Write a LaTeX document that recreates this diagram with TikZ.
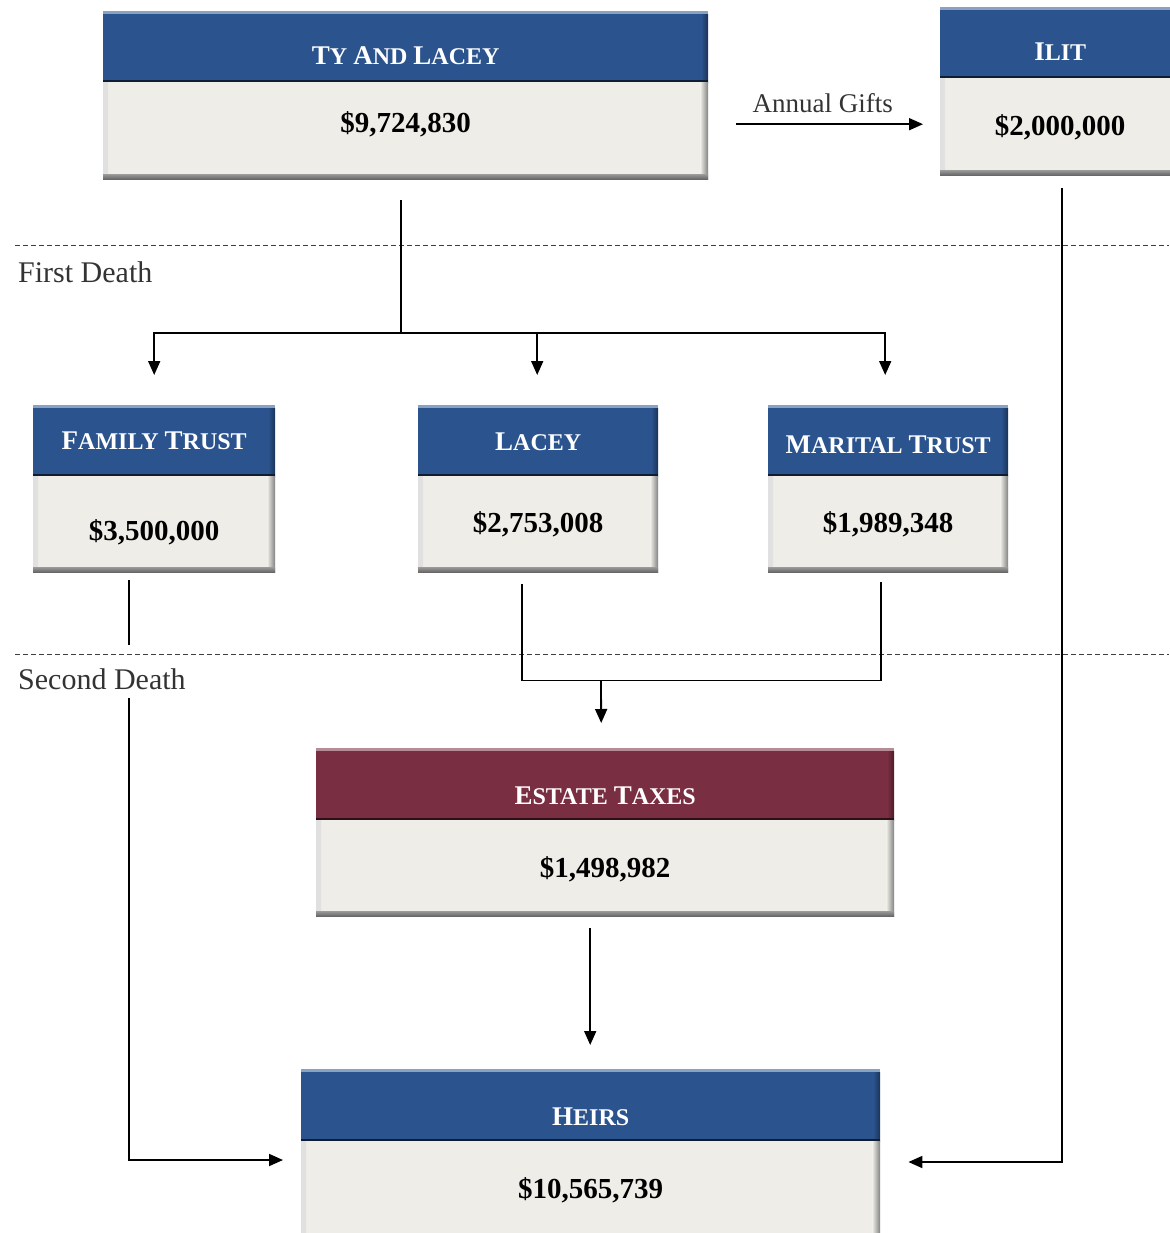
\documentclass[tikz,border=0pt]{standalone}
\usepackage{fontspec}
\setmainfont{Liberation Serif}
\usetikzlibrary{arrows.meta,calc}
\definecolor{hblue}{RGB}{43,84,142}
\definecolor{hred}{RGB}{122,46,66}
\definecolor{bodyc}{RGB}{238,237,231}
\definecolor{labc}{RGB}{51,51,51}
\newcommand\capsm[2]{{\fontsize{27}{27}\selectfont #1}{\fontsize{24}{24}\selectfont #2}}
\tikzset{
  hdr/.style={draw=none, fill=#1, inner sep=0pt, anchor=north west, text=white,
    font=\bfseries\fontsize{24}{24}\selectfont, text depth=0pt,
    path picture={
      \fill[#1!55!white] (path picture bounding box.north west) rectangle ([yshift=-3pt]path picture bounding box.north east);
      \shade[left color=#1, right color=#1!60!black] ([xshift=-7pt,yshift=-3pt]path picture bounding box.north east) rectangle (path picture bounding box.south east);
      \fill[#1!35!black] ([yshift=2.5pt]path picture bounding box.south west) rectangle (path picture bounding box.south east);
    }},
  bod/.style={draw=none, fill=bodyc, inner sep=0pt, anchor=north west, text=black,
    font=\bfseries\fontsize{29}{29}\selectfont, text depth=0pt,
    path picture={
      \shade[left color=black!12, right color=bodyc] (path picture bounding box.north west) rectangle ([xshift=5pt]path picture bounding box.south west);
      \shade[left color=bodyc, right color=black!50] ([xshift=-8pt]path picture bounding box.north east) rectangle (path picture bounding box.south east);
      \shade[top color=black!40, bottom color=black!60] ([yshift=5pt]path picture bounding box.south west) rectangle (path picture bounding box.south east);
    }},
  ln/.style={draw=black, line width=1.8pt},
  arr/.style={ln, -{Triangle[length=14pt,width=12pt]}},
  dsh/.style={draw=black!75, line width=1pt, dash pattern=on 5pt off 3pt},
  lab/.style={text=labc, inner sep=0pt, font=\fontsize{30}{30}\selectfont}
}
\begin{document}
\begin{tikzpicture}[x=1pt, y=-1pt]
\useasboundingbox (0,0) rectangle (1169,1233);

% dashed separators
\draw[dsh] (15,246) -- (1169,246);
\draw[dsh] (15,654) -- (1169,654);
\node[lab, anchor=base west] (fd) at (18,282) {First Death};
\node[lab, anchor=base west] (sd) at (18,689) {Second Death};

% boxes
\node[hdr=hblue, minimum width=605pt, minimum height=71pt, text height=35pt] (tyh) at (103,11) {\capsm{T}{Y} \capsm{A}{ND} \capsm{L}{ACEY}};
\node[bod, minimum width=605pt, minimum height=97pt, text height=3pt] (tyb) at (103,82) {\$9,724,830};

\node[hdr=hblue, minimum width=240pt, minimum height=71pt, text height=35pt] (ilh) at (940,7) {\capsm{I}{LIT}};
\node[bod, minimum width=240pt, minimum height=97pt, text height=17pt] (ilb) at (940,78) {\$2,000,000};

\node[hdr=hblue, minimum width=242pt, minimum height=71pt, text height=17pt] (famh) at (33,405) {\capsm{F}{AMILY} \capsm{T}{RUST}};
\node[bod, minimum width=242pt, minimum height=96pt, text height=32pt] (famb) at (33,476) {\$3,500,000};

\node[hdr=hblue, minimum width=240pt, minimum height=71pt, text height=19pt] (lach) at (418,405) {\capsm{L}{ACEY}};
\node[bod, minimum width=240pt, minimum height=96pt, text height=16pt] (lacb) at (418,476) {\$2,753,008};

\node[hdr=hblue, minimum width=240pt, minimum height=71pt, text height=25pt] (marh) at (768,405) {\capsm{M}{ARITAL} \capsm{T}{RUST}};
\node[bod, minimum width=240pt, minimum height=96pt, text height=16pt] (marb) at (768,476) {\$1,989,348};

\node[hdr=hred, minimum width=578pt, minimum height=72pt, text height=40pt] (esh) at (316,748) {\capsm{E}{STATE} \capsm{T}{AXES}};
\node[bod, minimum width=578pt, minimum height=96pt, text height=18pt] (esb) at (316,820) {\$1,498,982};

\node[hdr=hblue, minimum width=579pt, minimum height=72pt, text height=40pt] (heh) at (301,1069) {\capsm{H}{EIRS}};
\node[bod, minimum width=579pt, minimum height=104pt, text height=10pt] (heb) at (301,1141) {\$10,565,739};

% connectors
\coordinate (split) at (401,333);
\draw[ln] ($(tyb.south -| split)+(0,21)$) -- (split);
\draw[arr, shorten >=30pt] (split) -| (famh.north);
\draw[arr, shorten >=30pt] (split) -| ($(lach.north)+(-1,0)$);
\draw[arr, shorten >=30pt] (split) -| ($(marh.north)+(-3,0)$);

\coordinate (ag) at ($(tyb.east)+(28,-6.5)$);
\draw[arr] (ag) -- node[midway, above=11pt, inner sep=0pt, text=labc, font=\fontsize{27}{27}\selectfont, xshift=-7pt] (agl) {Annual Gifts} ($(ilb.west |- ag)+(-17,0)$);

\coordinate (hR) at ($(heb.north east)+(28,21)$);
\coordinate (hL) at ($(heb.north west)+(-18,19)$);
\draw[arr] ($(ilb.south)+(2,13)$) |- (hR);

\draw[ln] ($(famb.south)+(-25,8)$) -- ++(0,65);
\draw[arr] ($(famb.south)+(-25,126)$) |- (hL);

\coordinate (mj) at (601,680);
\draw[ln] ($(lacb.south)+(-16,12)$) |- ($(marb.south)+(-7,108)$) -- ($(marb.south)+(-7,10)$);
\draw[arr] (mj) -- ($(esh.north)+(-4,-25)$);
\draw[arr] ($(esb.south)+(-15,12)$) -- ($(heh.north)+(-0.5,-24)$);
\end{tikzpicture}
\end{document}
